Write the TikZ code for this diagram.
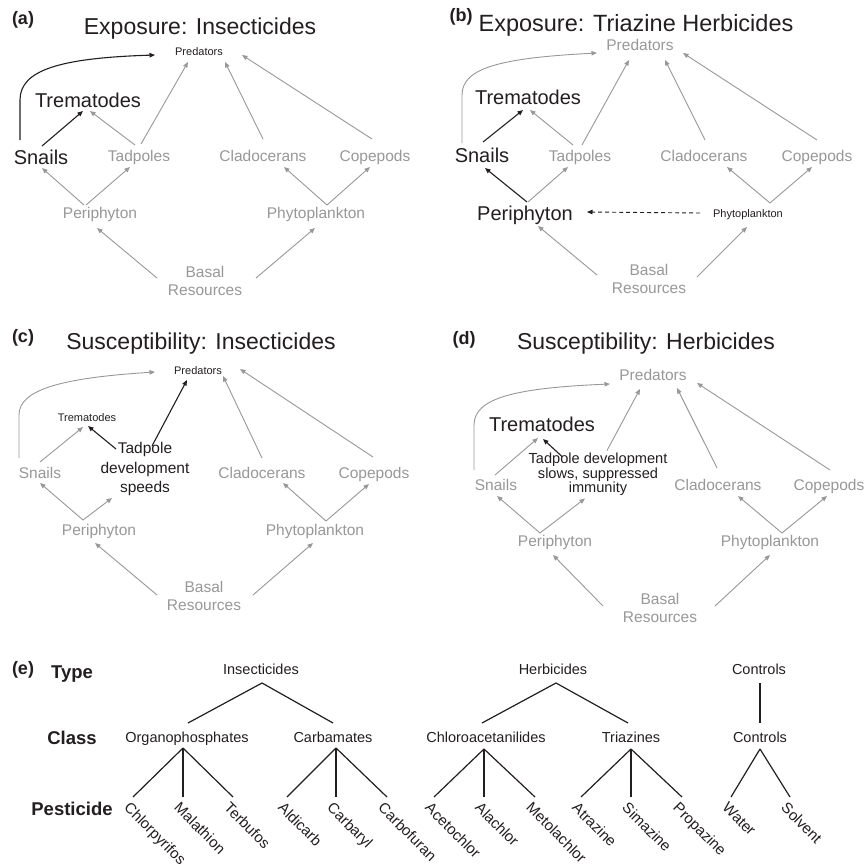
\documentclass[tikz,border=0pt]{standalone}
\usepackage{fontspec}
\setmainfont{Liberation Sans}
\usetikzlibrary{arrows.meta,calc}
\definecolor{gr}{RGB}{152,152,152}
\definecolor{tx}{RGB}{35,31,32}
\tikzset{
  every node/.style={inner sep=1pt},
  gl/.style={font=\fontsize{15.5}{18}\selectfont, text=gr, text height=11.2pt, text depth=0pt},
  bg/.style={font=\fontsize{20}{24}\selectfont, text=tx, text height=14.4pt, text depth=0pt},
  sm/.style={font=\fontsize{11}{13}\selectfont, text=tx, text height=7.9pt, text depth=0pt},
  ttl/.style={font=\fontsize{23}{27}\selectfont, text=tx, text height=16.5pt, text depth=0pt},
  plab/.style={font=\fontsize{18}{21}\selectfont\bfseries, text=tx},
  rowlab/.style={font=\fontsize{18.5}{22}\selectfont\bfseries, text=tx, text height=13.3pt, text depth=0pt},
  two/.style={font=\fontsize{15.5}{18}\selectfont, text=gr, align=center},
  cat/.style={font=\fontsize{14.5}{17}\selectfont, text=tx, text height=10.4pt, text depth=0pt},
  leaf/.style={font=\fontsize{15}{18}\selectfont, text=tx, rotate=-45, anchor=north west, inner sep=0pt},
  ga/.style={draw=gr, line width=0.9pt, -{Triangle[length=5.5pt,width=4.5pt]}},
  ba/.style={draw=tx, line width=1.1pt, -{Triangle[length=5.5pt,width=4.5pt]}},
  tl/.style={draw=tx, line width=1.2pt},
}
\begin{document}
\begin{tikzpicture}[x=1pt,y=-1pt]
\useasboundingbox[fill=white] (0,0) rectangle (867,868);

% ---------------- (a) ----------------
\node[plab] (labA) at (23,20) {(a)};
\node[ttl] (tA) at (200,26) {Exposure: Insecticides};
\node[sm] (prA) at (199,52) {Predators};
\node[bg] (trA) at (88,100) {Trematodes};
\node[bg] (snA) at (41,157) {Snails};
\node[gl] (tdA) at (139,156) {Tadpoles};
\node[gl] (clA) at (263,156) {Cladocerans};
\node[gl] (cpA) at (375,156) {Copepods};
\node[gl] (peA) at (100,213) {Periphyton};
\node[gl] (phA) at (316,213) {Phytoplankton};
\node[two] (baA) at (205,281) {Basal\\Resources};
\draw[ba] ($(snA)+(1,-11)$) -- ($(trA)+(-5,11)$);
\draw[ga] ($(tdA)+(-4,-11)$) -- ($(trA)+(2,11)$);
\draw[ga] ($(tdA)+(2,-12)$) -- ($(prA)+(-11,10)$);
\draw[ga] ($(clA)+(0,-17)$) -- ($(prA)+(26,10)$);
\draw[ga] ($(cpA)+(-3,-17)$) -- ($(prA)+(43,3)$);
\draw[ga] ($(peA)+(-16,-8)$) -- ($(snA)+(1,11)$);
\draw[ga] ($(peA)+(-14,-8)$) -- ($(tdA)+(-9,11)$);
\draw[ga] ($(phA)+(11,-8)$) -- ($(clA)+(21,11)$);
\draw[ga] ($(phA)+(11,-8)$) -- ($(cpA)+(-5,11)$);
\draw[ga] ($(baA)+(-48,-3)$) -- ($(peA)+(-3,15)$);
\draw[ga] ($(baA)+(51,-3)$) -- ($(phA)+(-1,15)$);
\draw[ba] ($(snA)+(-21,-17)$) -- ($(snA)+(-21,-57)$) .. controls ($(snA)+(-21,-87)$) and ($(snA)+(19,-99)$) .. ($(prA)+(-44,3)$);

% ---------------- (b) ----------------
\node[plab] (labB) at (461,17) {(b)};
\node[ttl, font=\fontsize{23.5}{27}\selectfont] (tB) at (636,23) {Exposure: Triazine Herbicides};
\node[gl] (prB) at (640,45) {Predators};
\node[bg] (trB) at (528,97) {Trematodes};
\node[bg] (snB) at (482,155) {Snails};
\node[gl] (tdB) at (580,156) {Tadpoles};
\node[gl] (clB) at (704,156) {Cladocerans};
\node[gl] (cpB) at (817,156) {Copepods};
\node[bg] (peB) at (525,213) {Periphyton};
\node[sm] (phB) at (748,214) {Phytoplankton};
\node[two] (baB) at (649,279) {Basal\\Resources};
\draw[ga] ($(snB)+(-20,-12)$) -- ($(snB)+(-20,-60)$) .. controls ($(snB)+(-20,-87)$) and ($(snB)+(18,-97)$) .. ($(prB)+(-43,8)$);
\draw[ba] ($(snB)+(1,-13)$) -- ($(trB)+(-5,13)$);
\draw[ga] ($(tdB)+(-7,-11)$) -- ($(trB)+(2,13)$);
\draw[ga] ($(tdB)+(2,-11)$) -- ($(prB)+(-11,15)$);
\draw[ga] ($(clB)+(1,-16)$) -- ($(prB)+(25,15)$);
\draw[ga] ($(cpB)+(0,-16)$) -- ($(prB)+(43,8)$);
\draw[ba] ($(peB)+(2,-11)$) -- ($(snB)+(3,13)$);
\draw[ga] ($(peB)+(3,-11)$) -- ($(tdB)+(-12,11)$);
\draw[ga] ($(phB)+(22,-11)$) -- ($(clB)+(23,11)$);
\draw[ga] ($(phB)+(22,-11)$) -- ($(cpB)+(-5,11)$);
\draw[ba, line width=0.9pt, dash pattern=on 4pt off 3pt] ($(phB)+(-48,-1)$) -- ($(peB)+(62,-1)$);
\draw[ga] ($(baB)+(-52,-4)$) -- ($(peB)+(13,13)$);
\draw[ga] ($(baB)+(48,-2)$) -- ($(phB)+(-1,13)$);

% ---------------- (c) ----------------
\node[plab] (labC) at (23,338) {(c)};
\node[ttl] (tC) at (201,341) {Susceptibility: Insecticides};
\node[sm] (prC) at (198,371) {Predators};
\node[sm] (trC) at (87,418) {Trematodes};
\node[font=\fontsize{15.5}{19.5}\selectfont, text=tx, align=center] (tpC) at (145,469) {Tadpole\\development\\speeds};
\node[gl] (snC) at (40,473) {Snails};
\node[gl] (clC) at (262,473) {Cladocerans};
\node[gl] (cpC) at (374,473) {Copepods};
\node[gl] (peC) at (99,530) {Periphyton};
\node[gl] (phC) at (315,530) {Phytoplankton};
\node[two] (baC) at (204,596) {Basal\\Resources};
\draw[ga] ($(snC)+(-21,-15)$) -- ($(snC)+(-21,-58)$) .. controls ($(snC)+(-21,-83)$) and ($(snC)+(20,-95)$) .. ($(prC)+(-43,1)$);
\draw[ga] ($(snC)+(0,-11)$) -- ($(trC)+(-4,9)$);
\draw[ba] ($(tpC)+(-29,-20)$) -- ($(trC)+(1,8)$);
\draw[ba] ($(tpC)+(7,-23)$) -- ($(prC)+(-11,9)$);
\draw[ga] ($(clC)+(0,-15)$) -- ($(prC)+(25,5)$);
\draw[ga] ($(cpC)+(-1,-16)$) -- ($(prC)+(42,-2)$);
\draw[ga] ($(peC)+(-16,-10)$) -- ($(snC)+(0,10)$);
\draw[ga] ($(peC)+(-16,-10)$) -- ($(tpC)+(-33,29)$);
\draw[ga] ($(phC)+(11,-9)$) -- ($(clC)+(21,10)$);
\draw[ga] ($(phC)+(11,-9)$) -- ($(cpC)+(-5,11)$);
\draw[ga] ($(baC)+(-47,-1)$) -- ($(peC)+(-4,13)$);
\draw[ga] ($(baC)+(49,-1)$) -- ($(phC)+(-2,13)$);

% ---------------- (d) ----------------
\node[plab] (labD) at (464,340) {(d)};
\node[ttl] (tD) at (646,341) {Susceptibility: Herbicides};
\node[gl] (prD) at (653,375) {Predators};
\node[bg] (trD) at (542,424) {Trematodes};
\node[font=\fontsize{14.6}{14.5}\selectfont, text=tx, align=center] (tpD) at (598,474.5) {Tadpole development\\slows, suppressed\\immunity};
\node[gl] (snD) at (496,485) {Snails};
\node[gl] (clD) at (718,485) {Cladocerans};
\node[gl] (cpD) at (829,485) {Copepods};
\node[gl] (peD) at (555,541) {Periphyton};
\node[gl] (phD) at (770,541) {Phytoplankton};
\node[two] (baD) at (660,608) {Basal\\Resources};
\draw[ga] ($(snD)+(-22,-15)$) -- ($(snD)+(-22,-60)$) .. controls ($(snD)+(-22,-87)$) and ($(snD)+(19,-97)$) .. ($(prD)+(-43,9)$);
\draw[ga] ($(snD)+(-1,-10)$) -- ($(trD)+(-4,14)$);
\draw[ba] ($(tpD)+(-36,-18)$) -- ($(trD)+(1,15)$);
\draw[ga] ($(tpD)+(9,-24)$) -- ($(prD)+(-13,14)$);
\draw[ga] ($(clD)+(-1,-17)$) -- ($(prD)+(24,13)$);
\draw[ga] ($(cpD)+(1,-15)$) -- ($(prD)+(44,8)$);
\draw[ga] ($(peD)+(-15,-8)$) -- ($(snD)+(1,11)$);
\draw[ga] ($(peD)+(-15,-8)$) -- ($(tpD)+(-13,24)$);
\draw[ga] ($(phD)+(12,-8)$) -- ($(clD)+(20,11)$);
\draw[ga] ($(phD)+(12,-8)$) -- ($(cpD)+(-2,11)$);
\draw[ga] ($(baD)+(-57,-2)$) -- ($(peD)+(-2,14)$);
\draw[ga] ($(baD)+(55,-2)$) -- ($(phD)+(0,14)$);

% ---------------- (e) ----------------
\node[plab] (labE) at (23,670) {(e)};
\node[rowlab] (tyE) at (72,672) {Type};
\node[rowlab] (clsE) at (72,738) {Class};
\node[rowlab] (psE) at (72,809) {Pesticide};

\node[cat] (ins) at (261,669) {Insecticides};
\node[cat] (her) at (553,669) {Herbicides};
\node[cat] (ct1) at (759,669) {Controls};
\node[cat] (org) at (187,737) {Organophosphates};
\node[cat] (car) at (333,737) {Carbamates};
\node[cat] (chl) at (486,737) {Chloroacetanilides};
\node[cat] (tri) at (631,737) {Triazines};
\node[cat] (ct2) at (760,737) {Controls};

\node[leaf] (l1) at (131,801) {Chlorpyrifos};
\node[leaf] (l2) at (181,801) {Malathion};
\node[leaf] (l3) at (231,801) {Terbufos};
\node[leaf] (l4) at (285,801) {Aldicarb};
\node[leaf] (l5) at (334,801) {Carbaryl};
\node[leaf] (l6) at (385,801) {Carbofuran};
\node[leaf] (l7) at (432,801) {Acetochlor};
\node[leaf] (l8) at (482,801) {Alachlor};
\node[leaf] (l9) at (533,801) {Metolachlor};
\node[leaf] (l10) at (579,801) {Atrazine};
\node[leaf] (l11) at (629,801) {Simazine};
\node[leaf] (l12) at (680,801) {Propazine};
\node[leaf] (l13) at (729,801) {Water};
\node[leaf] (l14) at (788,801) {Solvent};

\draw[tl] ($(ins)+(1,14)$) -- ($(org)+(1,-14)$);
\draw[tl] ($(ins)+(1,14)$) -- ($(car)+(0,-14)$);
\draw[tl] ($(her)+(3,14)$) -- ($(chl)+(-4,-14)$);
\draw[tl] ($(her)+(3,14)$) -- ($(tri)+(-3,-14)$);
\draw[tl] ($(ct1)+(1,14)$) -- ($(ct2)+(0,-14)$);
\foreach \l in {l1,l2,l3} \draw[tl] ($(org)+(-4,11)$) -- ($(\l.north west)+(2,-4)$);
\foreach \l in {l4,l5,l6} \draw[tl] ($(car)+(3,11)$) -- ($(\l.north west)+(2,-4)$);
\foreach \l in {l7,l8,l9} \draw[tl] ($(chl)+(-2,12)$) -- ($(\l.north west)+(2,-4)$);
\foreach \l in {l10,l11,l12} \draw[tl] ($(tri)+(0,12)$) -- ($(\l.north west)+(2,-4)$);
\foreach \l in {l13,l14} \draw[tl] ($(ct2)+(0,12)$) -- ($(\l.north west)+(2,-4)$);
\end{tikzpicture}
\end{document}
